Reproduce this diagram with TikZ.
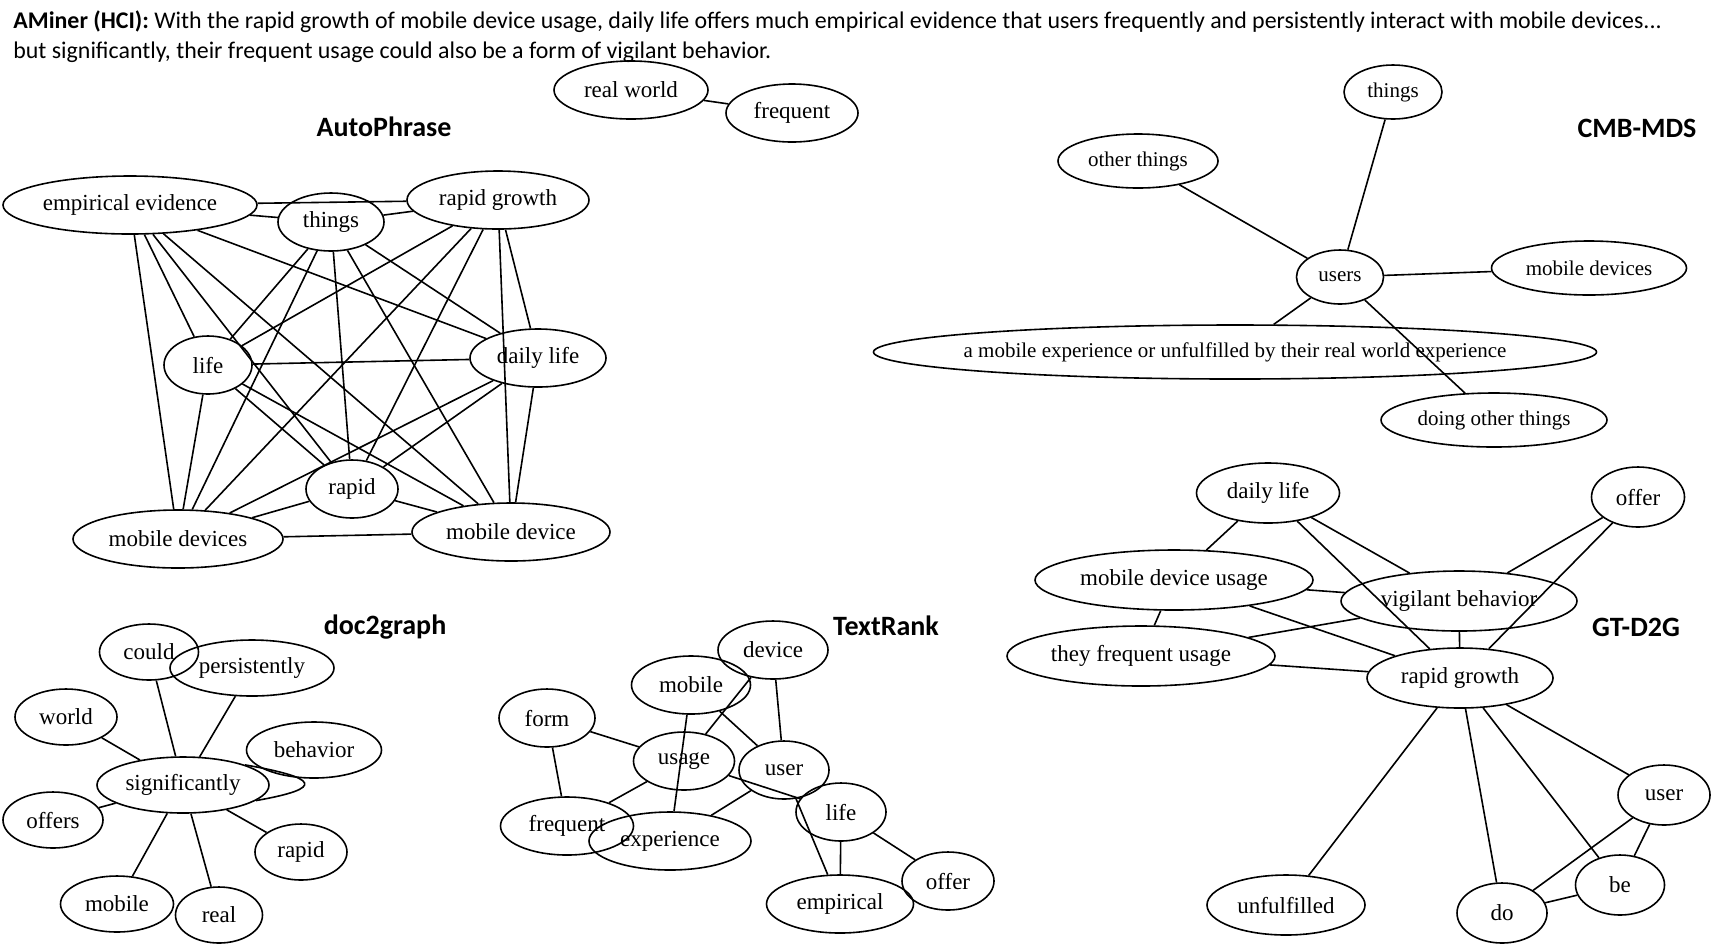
\documentclass[tikz,border=0pt]{standalone}
\usepackage{fontspec}
\setmainfont{Liberation Serif}
\newfontfamily\slidefont{Carlito}
\usetikzlibrary{shapes.geometric}

\begin{document}
\begin{tikzpicture}[x=0.5pt,y=0.5pt,yscale=-1,xscale=1,
  gv/.style={draw, ellipse, line width=0.8pt, inner xsep=-40pt, inner ysep=0pt, minimum height=29pt, font=\fontsize{11.5}{12}\selectfont},
  gvs/.style={gv, minimum height=27pt, font=\fontsize{10.5}{11}\selectfont},
  ttl/.style={inner sep=0pt, font=\slidefont\bfseries\fontsize{14}{16}\selectfont},
  hdr/.style={anchor=base west, inner sep=0pt, font=\slidefont\fontsize{11.95}{14}\selectfont},
  lnk/.style={line width=0.8pt}]
\useasboundingbox (0,0) rectangle (1717,950);

% Text Node
\node[hdr] (hdr1) at (13,28.5) {\textbf{AMiner (HCI):} With the rapid growth of mobile device usage, daily life offers much empirical evidence that users frequently and persistently interact with mobile devices...};
% Text Node
\node[hdr] (hdr2) at (13,58) {but significantly, their frequent usage could also be a form of vigilant behavior.};

% Titles
\node[ttl] (tap) at (384,127) {AutoPhrase};
\node[ttl] (tcm) at (1637,128) {CMB-MDS};
\node[ttl] (tdg) at (385,627) {doc2graph};
\node[ttl] (ttr) at (886,626) {TextRank};
\node[ttl] (tgt) at (1636,627) {GT-D2G};

%AutoPhrase
\node[gv, minimum width=127pt] (ap1) at (130,205) {empirical evidence};
\node[gv, minimum width=53pt] (ap2) at (331,222) {things};
\node[gv, minimum width=91pt] (ap3) at (498,200) {rapid growth};
\node[gv, minimum width=44pt] (ap4) at (208,365) {life};
\node[gv, minimum width=68pt] (ap5) at (538,358) {daily life};
\node[gv, minimum width=46pt] (ap6) at (352,489) {rapid};
\node[gv, minimum width=105pt] (ap7) at (178,539) {mobile devices};
\node[gv, minimum width=99pt] (ap8) at (511,532) {mobile device};
\foreach \i in {1,...,7}{
  \pgfmathtruncatemacro\k{\i+1}
  \foreach \j in {\k,...,8} \draw[lnk] (ap\i) -- (ap\j);
}
\node[gv, minimum width=77pt] (rw) at (631,90) {real world};
\node[gv, minimum width=66pt] (fq) at (792,113) {frequent};
\draw[lnk] (rw) -- (fq);

%CMB-MDS
\node[gvs, minimum width=49pt] (cm1) at (1393,92) {things};
\node[gvs, minimum width=80pt] (cm2) at (1138,161) {other things};
\node[gvs, minimum width=43.5pt] (cm3) at (1340,277) {users};
\node[gvs, minimum width=97.5pt] (cm4) at (1589,268) {mobile devices};
\node[gvs, minimum width=361.5pt] (cm5) at (1235,352) {a mobile experience or unfulfilled by their real world experience};
\node[gvs, minimum width=113pt] (cm6) at (1494,420) {doing other things};
\foreach \j in {1,2,4,5,6} \draw[lnk] (cm3) -- (cm\j);

%doc2graph
\node[gv, minimum width=49.5pt, minimum height=28pt] (dg1) at (149,652) {could};
\node[gv, minimum width=82pt, minimum height=28pt] (dg2) at (252,668) {persistently};
\node[gv, minimum width=51pt, minimum height=28pt] (dg3) at (66,717) {world};
\node[gv, minimum width=67.5pt, minimum height=28pt] (dg4) at (314,750) {behavior};
\node[gv, minimum width=86pt, minimum height=28pt] (dg0) at (183,785) {significantly};
\node[gv, minimum width=50pt, minimum height=28pt] (dg5) at (53,820) {offers};
\node[gv, minimum width=46pt, minimum height=28pt] (dg6) at (301,852) {rapid};
\node[gv, minimum width=56.5pt, minimum height=28pt] (dg7) at (117,904) {mobile};
\node[gv, minimum width=43.5pt, minimum height=28pt] (dg8) at (219,915) {real};
\foreach \j in {1,2,3,5,6,7,8} \draw[lnk] (dg0) -- (dg\j);
\draw[lnk] (dg0.18) to[out=10, in=-10, looseness=5] (dg0.-12);

%TextRank
\node[gv, minimum width=55pt] (tr1) at (773,650) {device};
\node[gv, minimum width=59.5pt] (tr2) at (691,685) {mobile};
\node[gv, minimum width=48pt] (tr3) at (547,718) {form};
\node[gv, minimum width=50.5pt] (tr4) at (684,761) {usage};
\node[gv, minimum width=45pt] (tr5) at (784,770) {user};
\node[gv, minimum width=45pt] (tr6) at (841,812) {life};
\node[gv, minimum width=66.5pt] (tr7) at (567,826) {frequent};
\node[gv, minimum width=81pt] (tr8) at (670,841) {experience};
\node[gv, minimum width=46pt] (tr9) at (948,881) {offer};
\node[gv, minimum width=73.5pt] (tr10) at (840,904) {empirical};
\foreach \a/\b in {2/8, 1/4, 2/5, 1/5, 3/4, 3/7, 4/7, 5/8, 4/6, 5/10, 6/10, 6/9}
  \draw[lnk] (tr\a) -- (tr\b);

%GT-D2G
\node[gv, minimum width=71.5pt, minimum height=30pt] (gt1) at (1268,493) {daily life};
\node[gv, minimum width=46.5pt, minimum height=30pt] (gt2) at (1638,497) {offer};
\node[gv, minimum width=139pt, minimum height=30pt] (gt3) at (1174,580) {mobile device usage};
\node[gv, minimum width=118pt, minimum height=30pt] (gt4) at (1459,601) {vigilant behavior};
\node[gv, minimum width=134pt, minimum height=30pt] (gt5) at (1141,656) {they frequent usage};
\node[gv, minimum width=93pt, minimum height=30pt] (gt6) at (1460,678) {rapid growth};
\node[gv, minimum width=46pt, minimum height=30pt] (gt7) at (1664,795) {user};
\node[gv, minimum width=44.5pt, minimum height=30pt] (gt8) at (1620,885) {be};
\node[gv, minimum width=45pt, minimum height=30pt] (gt9) at (1502,913) {do};
\node[gv, minimum width=79pt, minimum height=30pt] (gt10) at (1286,905) {unfulfilled};
\foreach \a/\b in {1/3, 1/4, 1/6, 2/4, 2/6, 3/4, 3/6, 3/5, 5/4, 5/6, 4/6, 6/10, 6/9, 6/8, 6/7, 7/9, 7/8, 9/8}
  \draw[lnk] (gt\a) -- (gt\b);

\end{tikzpicture}
\end{document}
